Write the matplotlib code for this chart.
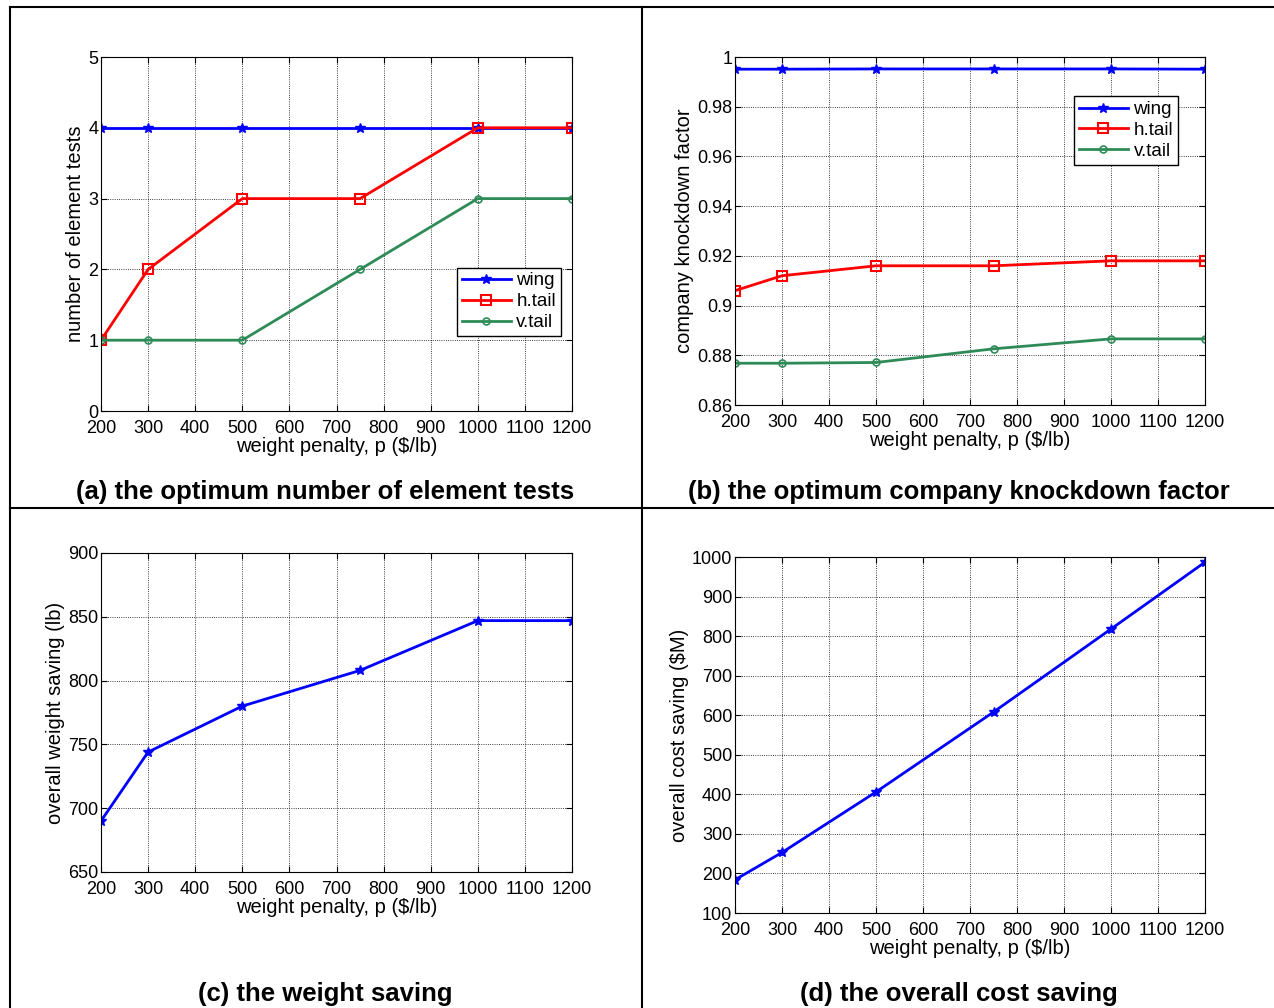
import numpy as np
import matplotlib
matplotlib.use("Agg")
import matplotlib.pyplot as plt
from matplotlib.lines import Line2D

plt.rcParams["font.family"] = ["Liberation Sans", "DejaVu Sans"]

# weight penalty values, $/lb
penalty = [200, 300, 500, 750, 1000, 1200]

# (a) optimum number of element tests
tests_wing = [4, 4, 4, 4, 4, 4]
tests_htail = [1, 2, 3, 3, 4, 4]
tests_vtail = [1, 1, 1, 2, 3, 3]

# (b) optimum company knockdown factor
kd_wing = [0.9951, 0.9951, 0.9952, 0.9952, 0.9952, 0.9951]
kd_htail = [0.906, 0.912, 0.916, 0.916, 0.918, 0.918]
kd_vtail = [0.8768, 0.8768, 0.8771, 0.8826, 0.8866, 0.8866]

# (c) overall weight saving (lb)
weight_saving = [690, 744, 780, 808, 847, 847]

# (d) overall cost saving ($M)
cost_saving = [184, 253, 406, 608, 818, 987]

W, H = 1274, 1008
BLUE, RED, GREEN = "#0000ff", "#ff0000", "#2e8b57"


def px_axes(fig, l, t, r, b):
    return fig.add_axes([l / W, 1 - b / H, (r - l) / W, (b - t) / H])


def style(ax, ylim, yticks, ylabel):
    ax.set_xlim(200, 1200)
    ax.set_xticks(range(200, 1201, 100))
    ax.set_ylim(*ylim)
    ax.set_yticks(yticks)
    ax.grid(True, linestyle=":", color="k", linewidth=0.6)
    ax.tick_params(direction="in", top=True, right=True, labelsize=13, length=4)
    ax.tick_params(axis="x", pad=6.5)
    ax.tick_params(axis="y", pad=2)
    ax.set_xlabel("weight penalty, p ($/lb)", fontsize=14.5, labelpad=0)
    ax.set_ylabel(ylabel, fontsize=14.5, labelpad=2)
    for s in ax.spines.values():
        s.set_linewidth(0.8)


fig = plt.figure(figsize=(W / 100, H / 100), dpi=100)
leg_kw = dict(fontsize=13.5, fancybox=False, edgecolor="k", framealpha=1,
              handlelength=2.6, borderpad=0.25, labelspacing=0.2, handletextpad=0.3)

# (a)
ax = px_axes(fig, 101, 57, 572, 411)
ax.plot(penalty, tests_wing, color=BLUE, lw=2, marker="*", ms=7, label="wing")
ax.plot(penalty, tests_htail, color=RED, lw=2, marker="s", ms=7, mfc="none", mew=1.5, label="h.tail")
ax.plot(penalty, tests_vtail, color=GREEN, lw=2, marker="o", ms=5, mfc="none", mew=1.2, label="v.tail")
style(ax, (0, 5), range(0, 6), "number of element tests")
ax.legend(loc="lower right", bbox_to_anchor=(0.996, 0.186), **leg_kw)

# (b)
ax = px_axes(fig, 735, 57, 1205, 405)
ax.plot(penalty, kd_wing, color=BLUE, lw=2, marker="*", ms=7, label="wing")
ax.plot(penalty, kd_htail, color=RED, lw=2, marker="s", ms=7, mfc="none", mew=1.5, label="h.tail")
ax.plot(penalty, kd_vtail, color=GREEN, lw=2, marker="o", ms=5, mfc="none", mew=1.2, label="v.tail")
style(ax, (0.86, 1.0), np.arange(0.86, 1.001, 0.02), "company knockdown factor")
ax.set_yticklabels(["0.86", "0.88", "0.9", "0.92", "0.94", "0.96", "0.98", "1"])
ax.legend(loc="upper right", bbox_to_anchor=(0.962, 0.914), **leg_kw)

# (c)
ax = px_axes(fig, 101, 553, 572, 872)
ax.plot(penalty, weight_saving, color=BLUE, lw=2, marker="*", ms=7)
style(ax, (650, 900), range(650, 901, 50), "overall weight saving (lb)")

# (d)
ax = px_axes(fig, 735, 557, 1205, 913)
ax.plot(penalty, cost_saving, color=BLUE, lw=2, marker="*", ms=7)
style(ax, (100, 1000), range(100, 1001, 100), "overall cost saving ($M)")

# captions
cap = dict(fontsize=18.5, fontweight="bold", ha="center", va="center")
fig.text(325 / W, 1 - 492 / H, "(a) the optimum number of element tests", **cap)
fig.text(959 / W, 1 - 492 / H, "(b) the optimum company knockdown factor", **cap)
fig.text(325 / W, 1 - 994 / H, "(c) the weight saving", **cap)
fig.text(959 / W, 1 - 994 / H, "(d) the overall cost saving", **cap)

# table frame
for (x0, y0, x1, y1) in [(10, 7, 1274, 7), (10, 7, 10, 1008), (642, 7, 642, 1008),
                         (10, 508, 1274, 508)]:
    fig.add_artist(Line2D([x0 / W, x1 / W], [1 - y0 / H, 1 - y1 / H],
                          color="k", lw=1.5, transform=fig.transFigure))

fig.savefig("out.png", dpi=100)
